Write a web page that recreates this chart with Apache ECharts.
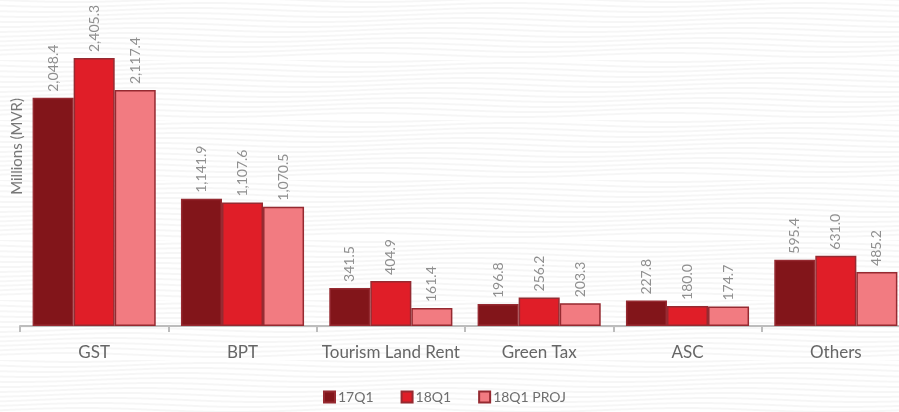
<!DOCTYPE html>
<html>
<head>
<meta charset="utf-8">
<script src="https://cdn.jsdelivr.net/npm/echarts@6/dist/echarts.min.js"></script>
<style>
  html, body { margin: 0; padding: 0; background: #ffffff; }
  #chart { width: 899px; height: 412px; }
</style>
</head>
<body>
<div id="chart"></div>
<script>
// Revenue by source, millions of MVR
const categories = ['GST', 'BPT', 'Tourism Land Rent', 'Green Tax', 'ASC', 'Others'];
const seriesNames = ['17Q1', '18Q1', '18Q1 PROJ'];
const values17Q1 = [2048.4, 1141.9, 341.5, 196.8, 227.8, 595.4];
const values18Q1 = [2405.3, 1107.6, 404.9, 256.2, 180.0, 631.0];
const values18Q1Proj = [2117.4, 1070.5, 161.4, 203.3, 174.7, 485.2];

const fills = ['#82151a', '#e01e28', '#f27b81'];
const borderColor = '#962a31';

// faint wavy backdrop texture
function waveTexture() {
  const c = document.createElement('canvas');
  c.width = 300; c.height = 60;
  const g = c.getContext('2d');
  g.fillStyle = '#ffffff';
  g.fillRect(0, 0, c.width, c.height);
  g.strokeStyle = 'rgba(0,0,0,0.035)';
  g.lineWidth = 2;
  for (let row = 0; row < 12; row++) {
    g.beginPath();
    for (let x = 0; x <= c.width; x += 2) {
      const y = row * 5 + 2 * Math.sin((x / c.width) * Math.PI * 2 + row * 0.3);
      if (x === 0) g.moveTo(x, y); else g.lineTo(x, y);
    }
    g.stroke();
  }
  return c;
}

const fmt = v => v.toLocaleString('en-US', { minimumFractionDigits: 1, maximumFractionDigits: 1 });

const chart = echarts.init(document.getElementById('chart'));
const dataSets = [values17Q1, values18Q1, values18Q1Proj];

chart.setOption({
  backgroundColor: { image: waveTexture(), repeat: 'repeat' },
  textStyle: { fontFamily: 'Lato, "Noto Sans", sans-serif' },
  animation: false,
  grid: { left: 20, right: -11, top: 40, bottom: 86, containLabel: false, outerBoundsMode: 'none' },
  legend: {
    bottom: 3,
    left: 318,
    itemWidth: 11,
    itemHeight: 11,
    itemGap: 27,
    icon: 'rect',
    textStyle: { color: '#6e6e6e', fontSize: 14, fontFamily: 'Lato, sans-serif', padding: [0, 0, 0, -2] },
    data: seriesNames
  },
  xAxis: {
    type: 'category',
    data: categories,
    axisLine: { lineStyle: { color: '#bdbdbd', width: 2 } },
    axisTick: { show: true, length: 6, lineStyle: { color: '#bdbdbd', width: 2 } },
    axisLabel: { interval: 0, color: '#666', fontSize: 17, margin: 18, fontFamily: 'Lato, sans-serif' }
  },
  yAxis: {
    type: 'value',
    min: 0,
    max: 2567,
    show: false
  },
  graphic: [{
    type: 'text',
    left: 10,
    top: 98,
    rotation: Math.PI / 2,
    style: {
      text: 'Millions (MVR)',
      fill: '#777',
      font: '15px Lato, sans-serif'
    }
  }],
  series: dataSets.map((vals, i) => ({
    name: seriesNames[i],
    type: 'bar',
    data: vals,
    barGap: '0%',
    barCategoryGap: '17%',
    itemStyle: { color: fills[i], borderColor: borderColor, borderWidth: 1.5 },
    label: {
      show: true,
      position: 'top',
      rotate: 90,
      align: 'left',
      verticalAlign: 'middle',
      distance: 6,
      color: '#8f8f8f',
      fontSize: 14,
      fontFamily: 'Lato, sans-serif',
      formatter: p => fmt(p.value)
    }
  }))
});
</script>
</body>
</html>
